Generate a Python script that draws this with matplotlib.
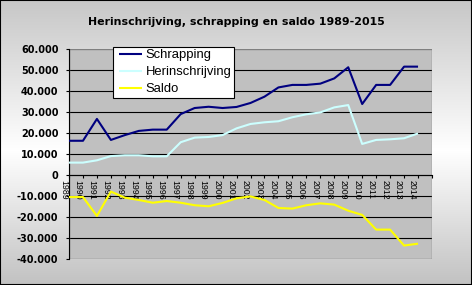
import matplotlib
matplotlib.use("Agg")
import matplotlib.pyplot as plt
import matplotlib.transforms as mtransforms
from matplotlib.patches import Rectangle
from matplotlib.ticker import FuncFormatter
import numpy as np

# ---------------- data ----------------
years = list(range(1989, 2015))
tick_labels = [str(y) for y in years]
schrapping = [16300, 16300, 26700, 16700, 19000, 21000, 21600, 21600, 29000, 31900,
              32500, 31900, 32400, 34300, 37300, 41700, 42900, 42900, 43500, 46000,
              51300, 33800, 42900, 42900, 51600, 51600]
herinschrijving = [5900, 5900, 7000, 9000, 9400, 9400, 8900, 8900, 15600, 17800,
                   18100, 19000, 22200, 24300, 25100, 25600, 27500, 28900, 29800, 32200,
                   33300, 14800, 16700, 17000, 17500, 19800]
saldo = [-10500, -10500, -19500, -7900, -10800, -11900, -13200, -12400, -13200, -14400,
         -14900, -13300, -11100, -10200, -11900, -15700, -16000, -14400, -13500, -14100,
         -17000, -19000, -26000, -26000, -33600, -32700]
series_names = ["Schrapping", "Herinschrijving", "Saldo"]
series_colors = ["#000080", "#CCFFFF", "#FFFF00"]
title = "Herinschrijving, schrapping en saldo 1989-2015"

W, H, DPI = 472, 285, 100
fig = plt.figure(figsize=(W / DPI, H / DPI), dpi=DPI)

# background gradient (grey - white - grey, vertical)
bg = fig.add_axes([0, 0, 1, 1], zorder=-10)
rows = np.arange(H)
g = np.interp(rows, [0, 150, H - 1], [0.78, 1.0, 0.76])
col = g[:, None] * np.ones((1, W))
img = np.dstack([col, col, col])
bg.imshow(img, aspect="auto", extent=[0, 1, 0, 1], origin="upper", interpolation="nearest")
bg.set_axis_off()
fig.add_artist(Rectangle((0, 0), 1, 1, transform=fig.transFigure, fill=False,
                         edgecolor="black", lw=1.5, zorder=10))

fig.text(0.5, 1 - 22 / H, title, ha="center", va="center",
         fontsize=7.9, fontweight="bold", family="DejaVu Sans")

ax = fig.add_axes([69 / W, 1 - 259 / H, 363 / W, 210 / H])
ax.set_facecolor("#C0C0C0")
x = np.arange(len(years))
for vals, name, c in zip([schrapping, herinschrijving, saldo], series_names, series_colors):
    ax.plot(x, vals, color=c, lw=1.5, label=name, zorder=3,
            solid_joinstyle="round", solid_capstyle="butt")

ax.set_xlim(0, len(years))
ax.set_ylim(-40000, 60000)
yt = np.arange(-40000, 60001, 10000)
ax.set_yticks(yt)
ax.yaxis.set_major_formatter(FuncFormatter(lambda v, p: f"{int(v):,}".replace(",", ".")))
for v in yt[1:-1]:
    ax.axhline(v, color="black", lw=0.8, zorder=1)

for s in ["top", "right"]:
    ax.spines[s].set_visible(False)
ax.spines["left"].set_color("black")
ax.spines["left"].set_linewidth(0.8)
ax.spines["left"].set_zorder(2.6)
ax.spines["bottom"].set_position(("data", 0))
ax.spines["bottom"].set_color("black")
ax.spines["bottom"].set_linewidth(0.8)
ax.add_patch(Rectangle((0, 0), 1, 1, transform=ax.transAxes, fill=False,
                       edgecolor="#808080", lw=1.0, zorder=2.4))

ax.set_xticks(np.arange(len(years) + 1))
ax.set_xticklabels(tick_labels + [""])
ax.tick_params(axis="x", direction="out", length=2.2, width=0.8, pad=1.5,
               colors="black", labelrotation=-90, labelsize=6.3)
ax.tick_params(axis="y", direction="out", length=2.2, width=0.8, pad=5.4, labelsize=7)

for lbl in ax.get_yticklabels():
    lbl.set_fontweight("bold")
    lbl.set_family("DejaVu Sans")
offset = mtransforms.ScaledTranslation(-5.5 / DPI, 0, fig.dpi_scale_trans)
for lbl in ax.get_xticklabels():
    lbl.set_family("Liberation Sans")
    lbl.set_transform(lbl.get_transform() + offset)

leg = ax.legend(loc="upper left", bbox_to_anchor=(113 / W, 1 - 47 / H),
                bbox_transform=fig.transFigure, frameon=True, fancybox=False,
                edgecolor="black", facecolor="white", framealpha=1, borderaxespad=0,
                borderpad=0.18, numpoints=2, handlelength=2.35, handletextpad=-0.05,
                labelspacing=0.36, prop={"family": "Liberation Sans", "size": 9.4})
leg.get_frame().set_linewidth(0.8)
leg.set_zorder(5)

fig.savefig("out.png", dpi=DPI)
